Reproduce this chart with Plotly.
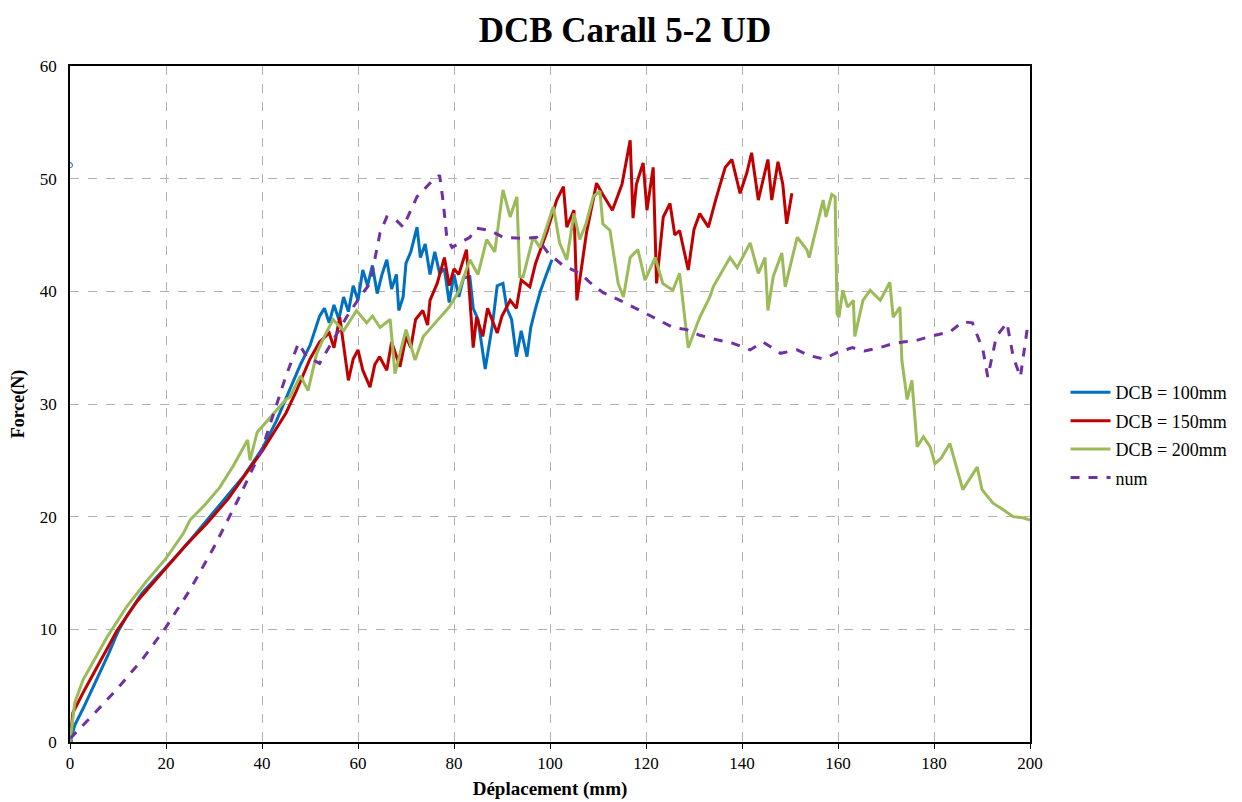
import plotly.graph_objects as go

# DCB = 100mm
x100 = [0, 1, 3, 5, 8, 10, 12, 15, 18, 20, 23, 26, 30, 33, 36, 40, 43, 46, 48, 50, 51, 52, 53, 54, 55, 56, 57,
        58, 59, 60, 61, 62, 63, 64, 65, 66, 67, 68, 68.5, 69.4, 70, 71, 72.3, 73, 74, 75, 76, 77, 78, 79, 80,
        81, 82, 83.3, 84, 85, 86.5, 87.5, 88, 89, 90.2, 91, 92, 93, 94, 95.2, 96, 97, 98, 99, 100.4]
y100 = [0, 1.5, 3.2, 5, 7.8, 9.8, 11.3, 13.2, 14.6, 15.5, 16.9, 18.4, 20.4, 22, 23.5, 26, 28.5, 31.5, 33.5, 35.2,
        36.5, 37.8, 38.5, 37.2, 38.8, 37.5, 39.5, 38.2, 40.5, 39.2, 41.9, 40.5, 42.3, 39.8, 41.5, 42.8, 40.2,
        41.5, 38.3, 39.5, 42.5, 43.5, 45.7, 43, 44.2, 41.5, 43.5, 41.6, 42, 39, 41.5, 39.5, 41.2, 41.3, 38.5,
        37.5, 33.1, 36, 37, 40.5, 40.7, 38.5, 37.5, 34.2, 36.5, 34.2, 36.8, 38.5, 40, 41.2, 42.8]

# DCB = 150mm
x150 = [0, 0.6, 3, 6, 9.8, 14, 20, 24, 28.5, 33, 36.8, 40, 45, 47, 50, 52, 54, 55, 56.2, 57, 58, 59, 60, 61,
        62.5, 63.5, 64.5, 66, 67, 68.75, 70, 71, 72, 73.5, 74.5, 75, 76.5, 78, 79, 80, 81, 82.6, 84, 84.7, 86,
        87, 89, 90, 91.7, 93, 94, 95.8, 97, 99.3, 101.4, 102.8, 103.5, 105, 105.6, 107.6, 109.7, 111, 113, 115,
        116.7, 117.3, 118, 119.4, 120.2, 121.5, 122.2, 123.6, 125, 126, 127, 128.8, 130, 131.2, 133, 134.5,
        136.5, 137.9, 139.6, 141, 142, 143.4, 144.5, 145.4, 146.2, 147.5, 148.5, 149.3, 150.4]
y150 = [0, 2.6, 4.6, 7, 9.9, 12.5, 15.5, 17.4, 19.4, 21.6, 23.9, 25.8, 29.2, 31, 34, 35.5, 36.3, 35, 37.7,
        35.2, 32.1, 34, 34.8, 33, 31.5, 33.5, 34.2, 33, 35.5, 33.3, 36, 35, 37.5, 38.3, 37, 39.2, 40.7, 43, 40.5,
        42, 41.5, 43.7, 35, 37.7, 36, 38.5, 36.3, 37.8, 39.2, 38.5, 41, 40.4, 42.5, 45.2, 48.1, 49.3, 45.7,
        47.2, 39.2, 45.2, 49.6, 48.6, 47.2, 49.5, 53.4, 46.5, 49.5, 51.4, 47.2, 51, 40.7, 46.6, 47.8, 45, 45.4,
        41.9, 45.5, 46.9, 45.7, 48.1, 51, 51.7, 48.7, 50.5, 52.3, 48.1, 50.2, 51.7, 48.1, 51.5, 49.5, 46, 48.7]

# DCB = 200mm
x200 = [0, 1, 2.7, 5, 7.7, 11.8, 16, 20, 23.6, 25, 28, 31.2, 34, 37, 37.5, 39, 42.4, 45, 45.8, 48, 49.6, 51.4,
        53, 54.8, 57, 59.7, 61.8, 63, 64.6, 66.7, 67.7, 70, 71.9, 73.6, 76.5, 79, 81, 83.3, 85, 86.8, 88.5,
        90.2, 91.7, 93.1, 93.7, 94.4, 96.5, 97.9, 100.7, 102, 103.5, 105, 106.2, 107.5, 109, 110.4, 111,
        112.5, 114.2, 115.3, 116.7, 118.3, 119.8, 121.9, 123.5, 125.6, 127, 128.8, 131.2, 133.3, 134, 137.5,
        139, 141.7, 143.4, 144.8, 145.4, 146.5, 148.3, 149, 151.5, 153.5, 154, 156.9, 157.5, 158.7, 159.4,
        159.8, 160.2, 161, 162, 163.2, 163.5, 165.2, 166.7, 168.8, 170.8, 171.5, 172.9, 173.3, 174.4, 175.4,
        176.5, 177.8, 179.2, 180.2, 181.5, 183.3, 186, 189, 190, 192.3, 194.5, 196.5, 198.5, 200]
y200 = [0, 3.5, 5.5, 7.3, 9.3, 12, 14.3, 16.3, 18.5, 19.7, 21, 22.6, 24.5, 26.8, 25, 27.5, 29.2, 30.4, 30.6,
        32.5, 31.2, 34.5, 36, 37.5, 36.5, 38.3, 37.2, 37.8, 36.8, 37.5, 32.7, 36.6, 33.9, 36, 37.4, 38.6, 40,
        42.8, 41.5, 44.6, 43.5, 49, 46.6, 48.4, 41.3, 41.3, 44.8, 43.9, 47.5, 44.3, 42.8, 46.9, 44.6, 46, 48.4,
        48.9, 46, 45.4, 40.7, 39.5, 43, 43.7, 41, 43, 40.7, 40.1, 41.6, 35, 37.7, 39.5, 40.4, 43, 42.1, 44.3,
        41.6, 43, 38.3, 41.3, 43.4, 40.4, 44.8, 43.7, 43, 48.1, 46.6, 48.6, 48.4, 38, 37.7, 40.1, 38.6, 39.2,
        36, 39.2, 40.1, 39.2, 40.8, 37.7, 38.6, 33.9, 30.4, 32.1, 26.2, 27.1, 26.2, 24.7, 25.2, 26.5, 22.4,
        24.4, 22.4, 21.2, 20.6, 20, 19.9, 19.7]

# num
xnum = [0, 5, 10, 15, 20, 25, 30, 35, 40, 43, 45, 47.6, 49.3, 52, 54.8, 57.6, 60.4, 62.5, 64.6, 66, 68, 69.4,
        72.3, 75, 77, 77.7, 78.5, 79.6, 83.3, 84.7, 87.5, 90.2, 94.4, 97.2, 99.6, 102.7, 106.2, 108.3, 111,
        114.6, 118.75, 122.3, 125.6, 128.5, 131.2, 134.8, 138, 141.7, 144.4, 148, 151.5, 154, 157, 160, 163,
        165.5, 168.7, 171, 173.5, 176, 179.2, 183.3, 186, 188, 190.2, 191.2, 193, 195.2, 196.5, 198, 199.4, 200]
ynum = [0.3, 2.5, 4.8, 7.3, 10.2, 13.5, 17.3, 21.5, 26, 29.8, 32.5, 35.4, 34.2, 33.6, 35.7, 37.7, 39.5, 40.7,
        45.2, 46.6, 46.3, 45.7, 48.4, 49.6, 50.3, 48.1, 44.8, 43.9, 44.8, 45.6, 45.4, 44.8, 44.7, 44.8, 43.4,
        42.3, 41.6, 40.8, 39.9, 39.2, 38.3, 37.5, 36.8, 36.6, 36.1, 35.7, 35.4, 34.8, 35.5, 34.5, 34.8, 34.3,
        34, 34.6, 35, 34.7, 35, 35.3, 35.5, 35.6, 36, 36.4, 37.3, 37.2, 34.8, 32.4, 36, 37.2, 34.2, 32.4, 36.6, 36]

# stray marker points seen on the chart
xmark = [0, 0]
ymark = [51.2, 0.1]

fig = go.Figure()
series = [
    ("DCB = 100mm", x100, y100, "#0070C0", "solid"),
    ("DCB = 150mm", x150, y150, "#C00000", "solid"),
    ("DCB = 200mm", x200, y200, "#9BBB59", "solid"),
    ("num", xnum, ynum, "#7030A0", "dash"),
]
for name, xs, ys, col, dash in series:
    fig.add_trace(go.Scatter(x=xs, y=ys, mode="lines", name=name, legendgroup=name,
                             line=dict(color=col, width=3, dash=dash)))

fig.add_trace(go.Scatter(x=xmark, y=ymark, mode="markers", showlegend=False,
                         marker=dict(symbol="circle-open", size=5, color="#4F81BD", line=dict(width=1.2))))

serif = "Liberation Serif"
fig.update_layout(
    width=1234, height=794,
    paper_bgcolor="white", plot_bgcolor="white",
    margin=dict(l=62, r=212, t=58, b=60, autoexpand=False),
    title=dict(text="<b>DCB Carall 5-2 UD</b>", x=0.5, xanchor="center", y=0.972, yanchor="middle",
               font=dict(family=serif, size=35, color="black")),
    font=dict(family=serif, size=16, color="black"),
    legend=dict(x=1.037, y=0.454, xanchor="left", yanchor="middle", bgcolor="rgba(0,0,0,0)",
                font=dict(family=serif, size=18, color="black"), tracegroupgap=2, itemwidth=40),
    showlegend=True,
)
fig.update_xaxes(range=[0, 200], dtick=20, tick0=0, showgrid=True, gridcolor="#B0B0B0", griddash="dash",
                 gridwidth=1, showline=True, linecolor="black", linewidth=1.5, mirror=True,
                 ticks="outside", ticklen=5, tickcolor="black", zeroline=False, automargin=False,
                 title=dict(text="<b>Déplacement (mm)</b>", font=dict(family=serif, size=19), standoff=10),
                 tickfont=dict(family=serif, size=17))
fig.update_yaxes(range=[0, 60], dtick=10, tick0=0, showgrid=True, gridcolor="#B0B0B0", griddash="dash",
                 gridwidth=1, showline=True, linecolor="black", linewidth=1.5, mirror=True,
                 ticks="", zeroline=False, automargin=False, ticklabelstandoff=8,
                 title=dict(text="<b>Force(N)</b>", font=dict(family=serif, size=18), standoff=12),
                 tickfont=dict(family=serif, size=17))

fig.write_html("out.html")
